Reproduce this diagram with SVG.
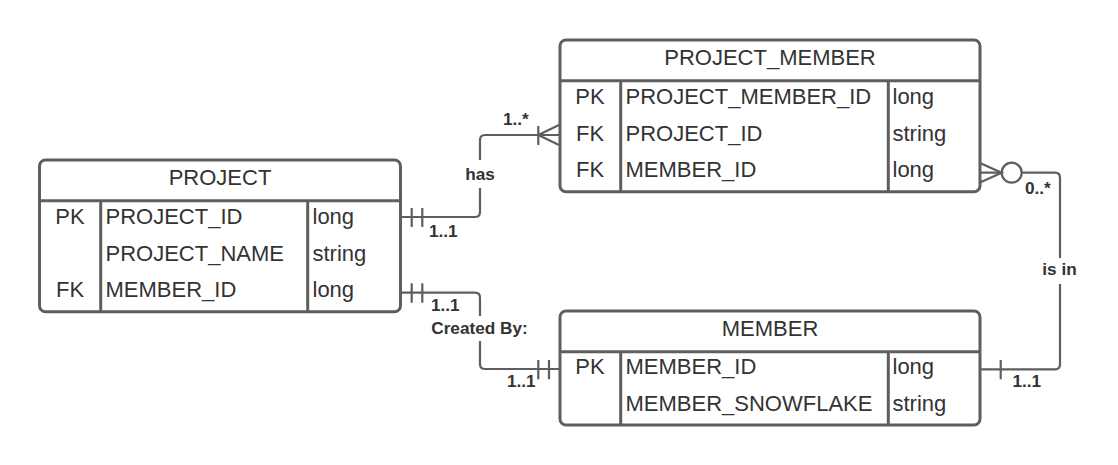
<svg xmlns="http://www.w3.org/2000/svg" width="1118" height="465" viewBox="0 0 1118 465">
<style>
.box{fill:#fff;stroke:#5e5e5e;stroke-width:3}
.ln{fill:none;stroke:#5e5e5e;stroke-width:3}
.cn{fill:none;stroke:#5e5e5e;stroke-width:2.2}
.t{font-family:"Liberation Sans",Arial,sans-serif;font-size:22px;fill:#333}
.c{text-anchor:middle}
.lb{font-family:"Liberation Sans",Arial,sans-serif;font-size:17.2px;font-weight:bold;fill:#333}
</style>
<rect width="1118" height="465" fill="#fff"/>
<g id="connectors">
  <!-- has -->
  <path class="cn" d="M400.5,217 H475 Q480,217 480,212 V140 Q480,135 485,135 H560"/>
  <line class="cn" x1="411.7" y1="208" x2="411.7" y2="227"/>
  <line class="cn" x1="422.3" y1="208" x2="422.3" y2="227"/>
  <line class="cn" x1="538.3" y1="126" x2="538.3" y2="145"/>
  <path class="cn" d="M538.3,135 L559,125 M538.3,135 L559,145"/>
  <rect x="462" y="160" width="36" height="28" fill="#fff"/>
  <text class="lb c" x="480" y="180">has</text>
  <text class="lb" x="503" y="125">1..*</text>
  <text class="lb" x="429" y="237">1..1</text>
  <!-- created by -->
  <path class="cn" d="M400.5,292.7 H475 Q480,292.7 480,297.7 V364 Q480,369 485,369 H560"/>
  <line class="cn" x1="411.7" y1="283.3" x2="411.7" y2="302.7"/>
  <line class="cn" x1="422.3" y1="283.3" x2="422.3" y2="302.7"/>
  <line class="cn" x1="538.3" y1="360" x2="538.3" y2="379.3"/>
  <line class="cn" x1="549" y1="360" x2="549" y2="379.3"/>
  <rect x="428" y="316" width="104" height="25" fill="#fff"/>
  <text class="lb c" x="479.5" y="334.3">Created By:</text>
  <text class="lb" x="431" y="311">1..1</text>
  <text class="lb" x="507" y="387.3">1..1</text>
  <!-- is in -->
  <path class="cn" d="M980,172.7 H1001.7 M1021.7,172.7 H1055 Q1060,172.7 1060,177.7 V364.3 Q1060,369.3 1055,369.3 H980"/>
  <path class="cn" d="M980,163 L1001.7,172.7 L980,182.4"/>
  <circle class="cn" cx="1011.7" cy="172.7" r="10"/>
  <line class="cn" x1="1000.7" y1="360" x2="1000.7" y2="379.3"/>
  <rect x="1037" y="258" width="46" height="26" fill="#fff"/>
  <text class="lb c" x="1059.5" y="275">is in</text>
  <text class="lb" x="1025" y="194">0..*</text>
  <text class="lb" x="1012.5" y="387.3">1..1</text>
</g>
<g id="project">
  <rect class="box" x="39.5" y="160" width="361" height="151.7" rx="6"/>
  <line class="ln" x1="39.5" y1="200.7" x2="400.5" y2="200.7"/>
  <line class="ln" x1="100.7" y1="200.7" x2="100.7" y2="311.7"/>
  <line class="ln" x1="307.7" y1="200.7" x2="307.7" y2="311.7"/>
  <text class="t c" x="220" y="185">PROJECT</text>
  <text class="t c" x="70" y="224">PK</text>
  <text class="t" x="105.5" y="224">PROJECT_ID</text>
  <text class="t" x="312.5" y="224">long</text>
  <text class="t" x="105.5" y="260.7">PROJECT_NAME</text>
  <text class="t" x="312.5" y="260.7">string</text>
  <text class="t c" x="70" y="296.7">FK</text>
  <text class="t" x="105.5" y="296.7">MEMBER_ID</text>
  <text class="t" x="312.5" y="296.7">long</text>
</g>
<g id="project_member">
  <rect class="box" x="560" y="40" width="420" height="151.7" rx="6"/>
  <line class="ln" x1="560" y1="80.7" x2="980" y2="80.7"/>
  <line class="ln" x1="620.7" y1="80.7" x2="620.7" y2="191.7"/>
  <line class="ln" x1="888.3" y1="80.7" x2="888.3" y2="191.7"/>
  <text class="t c" x="770" y="65">PROJECT_MEMBER</text>
  <text class="t c" x="590" y="104">PK</text>
  <text class="t" x="625.5" y="104">PROJECT_MEMBER_ID</text>
  <text class="t" x="892.5" y="104">long</text>
  <text class="t c" x="590" y="140.7">FK</text>
  <text class="t" x="625.5" y="140.7">PROJECT_ID</text>
  <text class="t" x="892.5" y="140.7">string</text>
  <text class="t c" x="590" y="176.7">FK</text>
  <text class="t" x="625.5" y="176.7">MEMBER_ID</text>
  <text class="t" x="892.5" y="176.7">long</text>
</g>
<g id="member">
  <rect class="box" x="560" y="311" width="420" height="114" rx="6"/>
  <line class="ln" x1="560" y1="351.7" x2="980" y2="351.7"/>
  <line class="ln" x1="620.7" y1="351.7" x2="620.7" y2="425"/>
  <line class="ln" x1="888.3" y1="351.7" x2="888.3" y2="425"/>
  <text class="t c" x="770" y="336">MEMBER</text>
  <text class="t c" x="590" y="374">PK</text>
  <text class="t" x="625.5" y="374">MEMBER_ID</text>
  <text class="t" x="892.5" y="374">long</text>
  <text class="t" x="625.5" y="410.7">MEMBER_SNOWFLAKE</text>
  <text class="t" x="892.5" y="410.7">string</text>
</g>
</svg>
